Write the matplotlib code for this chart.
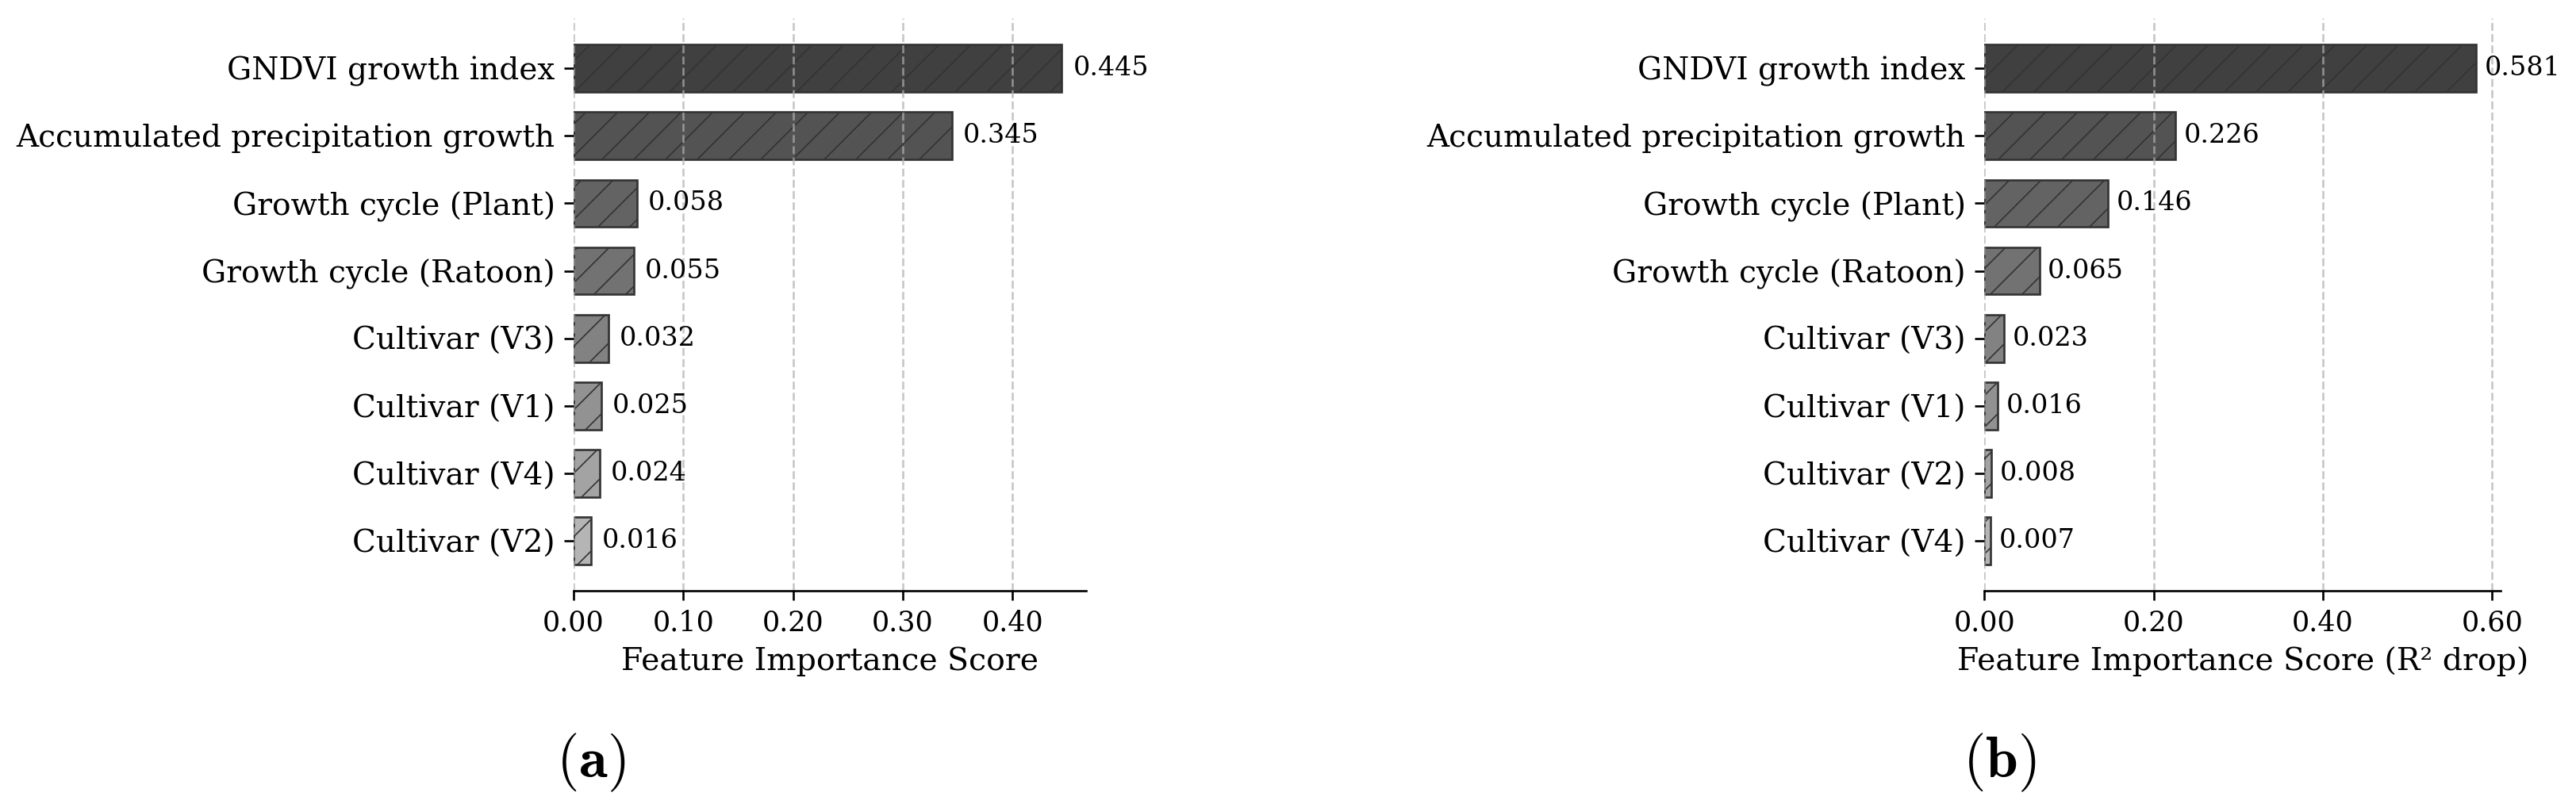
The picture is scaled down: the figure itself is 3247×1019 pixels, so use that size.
import numpy as np
import matplotlib
matplotlib.use('Agg')
import matplotlib.pyplot as plt
from matplotlib.ticker import MultipleLocator, FormatStrFormatter

plt.rcParams['font.family'] = ['DejaVu Serif']
plt.rcParams['mathtext.fontset'] = 'cm'
plt.rcParams['hatch.linewidth'] = 0.5

# Data
features_a = ['GNDVI growth index', 'Accumulated precipitation growth',
              'Growth cycle (Plant)', 'Growth cycle (Ratoon)',
              'Cultivar (V3)', 'Cultivar (V1)', 'Cultivar (V4)', 'Cultivar (V2)']
scores_a = [0.445, 0.345, 0.058, 0.055, 0.032, 0.025, 0.024, 0.016]

features_b = ['GNDVI growth index', 'Accumulated precipitation growth',
              'Growth cycle (Plant)', 'Growth cycle (Ratoon)',
              'Cultivar (V3)', 'Cultivar (V1)', 'Cultivar (V2)', 'Cultivar (V4)']
scores_b = [0.581, 0.226, 0.146, 0.065, 0.023, 0.016, 0.008, 0.007]

xlabel_a = 'Feature Importance Score'
xlabel_b = 'Feature Importance Score (R\u00b2 drop)'

colors = plt.cm.Greys(np.linspace(0.8, 0.4, 8))

fig = plt.figure(figsize=(3247 / 240, 1019 / 240), dpi=240)
ax_a = fig.add_axes([0.2227, 0.269, 0.199, 0.708])
ax_b = fig.add_axes([0.7703, 0.269, 0.2005, 0.708])


def draw_panel(ax, features, scores, xlabel, step):
    y = np.arange(len(features))
    ax.barh(y, scores, height=0.7, color=colors, edgecolor='#333333',
            linewidth=0.8, hatch='//')
    ax.set_yticks(y)
    ax.set_yticklabels(features, fontsize=11.7)
    ax.invert_yaxis()
    for yi, s in zip(y, scores):
        ax.text(s + 0.01, yi, f'{s:.3f}', va='center', ha='left', fontsize=10)
    ax.set_xlim(0, max(scores) * 1.05)
    ax.xaxis.set_major_locator(MultipleLocator(step))
    ax.xaxis.set_major_formatter(FormatStrFormatter('%.2f'))
    ax.tick_params(axis='x', labelsize=10.5)
    ax.set_xlabel(xlabel, fontsize=11.8)
    ax.grid(axis='x', linestyle='--', alpha=0.7)
    for side in ['top', 'right', 'left']:
        ax.spines[side].set_visible(False)


draw_panel(ax_a, features_a, scores_a, xlabel_a, 0.1)
draw_panel(ax_b, features_b, scores_b, xlabel_b, 0.2)

fig.text(745 / 3247, 0.056, r'$(\mathbf{a})$', ha='center', va='center', fontsize=22)
fig.text(2520 / 3247, 0.056, r'$(\mathbf{b})$', ha='center', va='center', fontsize=22)

fig.savefig('out.png', dpi=240)
